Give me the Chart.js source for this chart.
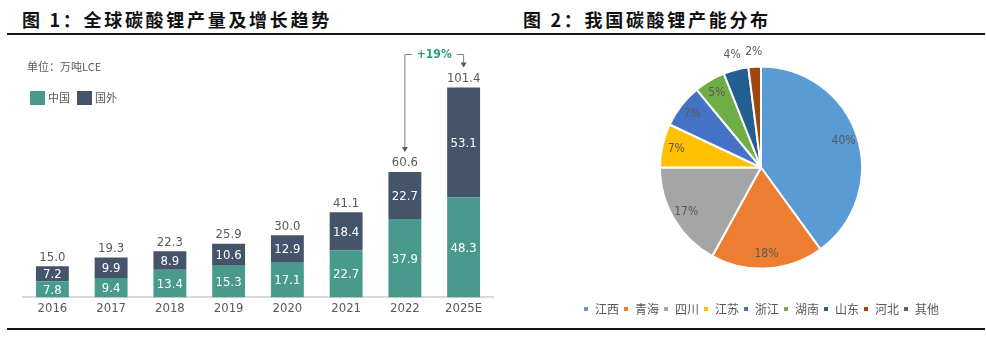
<!DOCTYPE html>
<html>
<head>
<meta charset="utf-8">
<script src="https://cdn.jsdelivr.net/npm/chart.js@4.4.0/dist/chart.umd.min.js"></script>
<style>
    body { margin: 0; background: #fff; width: 986px; height: 337px; position: relative; overflow: hidden; }
    .title { position: absolute; top: 6px; font-family: "Noto Sans CJK SC", sans-serif; font-weight: 700; font-size: 18px; letter-spacing: 2.7px; color: #111; }
    .rule { position: absolute; left: 7px; width: 978px; height: 2px; background: #111; }
    #barWrap { position: absolute; left: 0; top: 36px; width: 500px; height: 290px; }
    #pieWrap { position: absolute; left: 500px; top: 36px; width: 486px; height: 290px; }
</style>
</head>
<body>
<div class="title" style="left:22px">图 1：全球碳酸锂产量及增长趋势</div>
<div class="title" style="left:523px">图 2：我国碳酸锂产能分布</div>
<div class="rule" style="top:33px"></div>
<div class="rule" style="top:328px"></div>
<div id="barWrap"><canvas id="barChart"></canvas></div>
<div id="pieWrap"><canvas id="pieChart"></canvas></div>

<script>
// global lithium carbonate output, 10k t LCE
var years = ['2016', '2017', '2018', '2019', '2020', '2021', '2022', '2025E'];
var chinaOutput = [7.8, 9.4, 13.4, 15.3, 17.1, 22.7, 37.9, 48.3];
var overseasOutput = [7.2, 9.9, 8.9, 10.6, 12.9, 18.4, 22.7, 53.1];
var totalOutput = [15.0, 19.3, 22.3, 25.9, 30.0, 41.1, 60.6, 101.4];
var unitLabel = '单位：万吨LCE';
var growthLabel = '+19%';

// domestic capacity share by province, %
var regions = ['江西', '青海', '四川', '江苏', '浙江', '湖南', '山东', '河北', '其他'];
var regionShares = [40, 18, 17, 7, 7, 5, 4, 2, 0];
var regionColors = ['#5B9BD5', '#ED7D31', '#A5A5A5', '#FFC000', '#4472C4', '#70AD47', '#255E91', '#9E480E', '#636363'];

var numFont = "'DejaVu Sans Condensed', 'Liberation Sans Narrow', 'Liberation Sans', sans-serif";
var cjkFont = "'Noto Sans CJK SC', sans-serif";

// unit note + legend in the top-left corner
var barLegend = {
    id: 'barLegend',
    afterDraw: function(chart) {
        var ctx = chart.ctx;
        ctx.save();
        ctx.font = '11px ' + cjkFont;
        ctx.fillStyle = '#595959';
        ctx.textBaseline = 'middle';
        ctx.fillText(unitLabel, 27, 31);
        var x = 30;
        chart.data.datasets.forEach(function(ds) {
            ctx.fillStyle = ds.backgroundColor;
            ctx.fillRect(x, 55, 15, 14);
            ctx.fillStyle = '#595959';
            ctx.fillText(ds.label, x + 18, 62);
            x += 47;
        });
        ctx.restore();
    }
};

// labels inside the stacks, totals on top, and the growth bracket
var barLabels = {
    id: 'barLabels',
    afterDatasetsDraw: function(chart) {
        var ctx = chart.ctx;
        var xs = chart.scales.x;
        var ys = chart.scales.y;
        ctx.save();
        ctx.font = '13px ' + numFont;
        ctx.textAlign = 'center';
        ctx.textBaseline = 'middle';

        chart.data.datasets.forEach(function(ds, i) {
            chart.getDatasetMeta(i).data.forEach(function(bar, j) {
                ctx.fillStyle = '#ffffff';
                ctx.fillText(ds.data[j].toFixed(1), bar.x, (bar.y + bar.base) / 2 + 1);
            });
        });

        ctx.fillStyle = '#595959';
        totalOutput.forEach(function(t, j) {
            ctx.fillText(t.toFixed(1), xs.getPixelForValue(j), ys.getPixelForValue(t) - 9);
        });

        var x1 = xs.getPixelForValue(6);
        var x2 = xs.getPixelForValue(7);
        var yTop = ys.getPixelForValue(totalOutput[7]) - 33;
        var tip1 = ys.getPixelForValue(totalOutput[6]) - 21;
        var tip2 = ys.getPixelForValue(totalOutput[7]) - 21;
        var mid = (x1 + x2) / 2;
        ctx.font = 'bold 12px ' + numFont;
        var half = ctx.measureText(growthLabel).width / 2 + 5;

        ctx.strokeStyle = '#7f7f7f';
        ctx.lineWidth = 1;
        ctx.beginPath();
        ctx.moveTo(x1, tip1);
        ctx.lineTo(x1, yTop);
        ctx.lineTo(mid - half, yTop);
        ctx.moveTo(mid + half, yTop);
        ctx.lineTo(x2, yTop);
        ctx.lineTo(x2, tip2);
        ctx.stroke();

        ctx.fillStyle = '#595959';
        [[x1, tip1], [x2, tip2]].forEach(function(p) {
            ctx.beginPath();
            ctx.moveTo(p[0], p[1] + 1);
            ctx.lineTo(p[0] - 3, p[1] - 4);
            ctx.lineTo(p[0] + 3, p[1] - 4);
            ctx.closePath();
            ctx.fill();
        });

        ctx.fillStyle = '#2E9C7E';
        ctx.fillText(growthLabel, mid, yTop);
        ctx.restore();
    }
};

new Chart(document.getElementById('barChart'), {
    type: 'bar',
    data: {
        labels: years,
        datasets: [{
            label: '中国',
            data: chinaOutput,
            backgroundColor: '#479A8C'
        }, {
            label: '国外',
            data: overseasOutput,
            backgroundColor: '#44546A'
        }]
    },
    options: {
        responsive: true,
        maintainAspectRatio: false,
        animation: false,
        categoryPercentage: 0.8,
        barPercentage: 0.7,
        layout: { padding: { left: 23, right: 7, top: 13, bottom: 7 } },
        scales: {
            x: {
                stacked: true,
                grid: { display: false, drawTicks: false },
                border: { color: '#d9d9d9', width: 2 },
                ticks: { color: '#595959', font: { family: numFont, size: 13 }, padding: 3 }
            },
            y: {
                stacked: true,
                display: false,
                min: 0,
                max: 120
            }
        },
        plugins: {
            legend: { display: false },
            tooltip: { enabled: false }
        }
    },
    plugins: [barLabels, barLegend]
});

// percentage labels on the pie
var pieLabels = {
    id: 'pieLabels',
    afterDatasetsDraw: function(chart) {
        var ctx = chart.ctx;
        ctx.save();
        ctx.font = '12px ' + numFont;
        ctx.fillStyle = '#595959';
        ctx.textAlign = 'center';
        ctx.textBaseline = 'middle';
        chart.getDatasetMeta(0).data.forEach(function(arc, i) {
            var v = regionShares[i];
            if (!v) return;
            var a = (arc.startAngle + arc.endAngle) / 2;
            var r = arc.outerRadius * (v >= 5 ? 0.86 : 1.15);
            ctx.fillText(v + '%', arc.x + Math.cos(a) * r, arc.y + Math.sin(a) * r);
        });
        ctx.restore();
    }
};

new Chart(document.getElementById('pieChart'), {
    type: 'pie',
    data: {
        labels: regions,
        datasets: [{
            data: regionShares,
            backgroundColor: regionColors,
            borderColor: '#ffffff',
            borderWidth: 2,
            radius: 101
        }]
    },
    options: {
        responsive: true,
        maintainAspectRatio: false,
        animation: false,
        layout: { padding: { left: 36, right: 0, top: 0, bottom: 1 } },
        plugins: {
            legend: {
                position: 'bottom',
                labels: {
                    color: '#595959',
                    font: { family: cjkFont, size: 12 },
                    usePointStyle: true,
                    pointStyle: 'rect',
                    boxWidth: 6,
                    boxHeight: 6,
                    padding: 4
                }
            },
            tooltip: { enabled: false }
        }
    },
    plugins: [pieLabels]
});
</script>
</body>
</html>
